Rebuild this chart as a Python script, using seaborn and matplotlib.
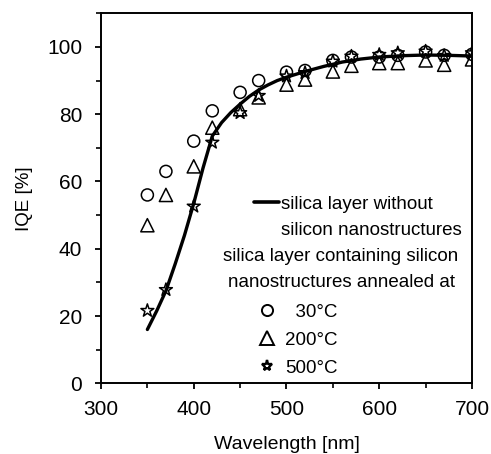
import numpy as np
import pandas as pd
import seaborn as sns
import matplotlib.pyplot as plt
from matplotlib.lines import Line2D
from matplotlib.ticker import MultipleLocator

# measured points (wavelength in nm, IQE in %)
wavelength = [350, 370, 400, 420, 450, 470, 500, 520, 550, 570, 600, 620, 650, 670, 700]
iqe_30 = [56, 63, 72, 81, 86.5, 90, 92.5, 93, 96, 97, 97, 97.5, 98.5, 97.5, 97.8]
iqe_200 = [47, 56, 64.5, 76, 81.5, 85, 88.8, 90.3, 92.7, 94.4, 95.2, 95.2, 96, 94.7, 96.3]
iqe_500 = [21.6, 27.8, 52.6, 71.6, 80.4, 85.5, 91.3, 92.3, 95.7, 97.2, 97.7, 98.2, 98.7, 97.4, 98.2]

# reference curve: silica layer without nanostructures
curve_wl = [350, 360, 370, 380, 390, 400, 410, 420, 430, 440, 450, 460, 470, 480, 490,
            500, 520, 540, 560, 580, 600, 625, 650, 675, 700]
curve_iqe = [16, 21.5, 27.5, 35.5, 44, 53.5, 64, 73.5, 77.5, 80.5, 83, 85.3, 87.2, 88.7, 90,
             91, 92.7, 94.2, 95.5, 96.4, 97, 97.4, 97.6, 97.5, 97.3]

sns.set_style("ticks")
plt.rcParams['font.family'] = ['Liberation Sans', 'DejaVu Sans']
plt.rcParams.update({"text.color": "black", "axes.labelcolor": "black",
                     "xtick.color": "black", "ytick.color": "black"})

fig = plt.figure(figsize=(4.91, 4.54), dpi=100)
ax = fig.add_axes([0.2057, 0.1557, 0.7556, 0.815])

curve = pd.DataFrame({"wl": curve_wl, "iqe": curve_iqe})
sns.lineplot(data=curve, x="wl", y="iqe", color="black", lw=2.4, ax=ax,
             estimator=None, sort=True, zorder=2)

pts = pd.DataFrame({"wl": wavelength, "c30": iqe_30, "c200": iqe_200, "c500": iqe_500})
mk = dict(facecolor="none", edgecolor="black", linewidth=1.1, zorder=3, ax=ax)
sns.scatterplot(data=pts, x="wl", y="c30", marker="o", s=75, **mk)
sns.scatterplot(data=pts, x="wl", y="c200", marker="^", s=90, **mk)
sns.scatterplot(data=pts, x="wl", y="c500", marker="*", s=95, **mk)

ax.set_xlim(300, 700)
ax.set_ylim(0, 110)
ax.set_xticks([300, 400, 500, 600, 700])
ax.set_yticks([0, 20, 40, 60, 80, 100])
ax.xaxis.set_minor_locator(MultipleLocator(50))
ax.yaxis.set_minor_locator(MultipleLocator(10))
ax.tick_params(which="major", length=4.5, width=1.3, labelsize=15)
ax.tick_params(axis="x", which="major", pad=7.5)
ax.tick_params(axis="y", which="major", pad=9)
ax.tick_params(which="minor", length=3.5, width=1.2)
for s in ax.spines.values():
    s.set_linewidth(1.4)
    s.set_color("black")
    s.set_visible(True)

ax.set_xlabel("Wavelength [nm]", fontsize=14, labelpad=12)
ax.set_ylabel("IQE [%]", fontsize=13.5, labelpad=10)

# legend: line entry (second row is the continuation of the label)
h_line = Line2D([], [], color="black", lw=2.6)
h_blank = Line2D([], [], ls="none")
leg1 = ax.legend([h_line, h_blank], ["silica layer without", "silicon nanostructures"],
                 loc="center left", bbox_to_anchor=(0.412, 0.449), frameon=False,
                 fontsize=13.5, handlelength=1.33, handletextpad=0.1, borderaxespad=0,
                 borderpad=0, labelspacing=0.45)
ax.add_artist(leg1)

ax.text(0.647, 0.307, "silica layer containing silicon\nnanostructures annealed at",
        transform=ax.transAxes, ha="center", va="center", fontsize=13.5,
        linespacing=1.7)

handles = [Line2D([], [], ls="none", marker="o", ms=8, mfc="none", mec="black", mew=1.4),
           Line2D([], [], ls="none", marker="^", ms=9.5, mfc="none", mec="black", mew=1.4),
           Line2D([], [], ls="none", marker="*", ms=8, mfc="none", mec="black", mew=1.7)]
ax.legend(handles, ["  30°C", "200°C", "500°C"], loc="center left",
          bbox_to_anchor=(0.421, 0.116), frameon=False, fontsize=13.5,
          handlelength=1.0, handletextpad=0.48, labelspacing=0.58,
          borderaxespad=0, borderpad=0)

fig.savefig("out.png", dpi=100)
